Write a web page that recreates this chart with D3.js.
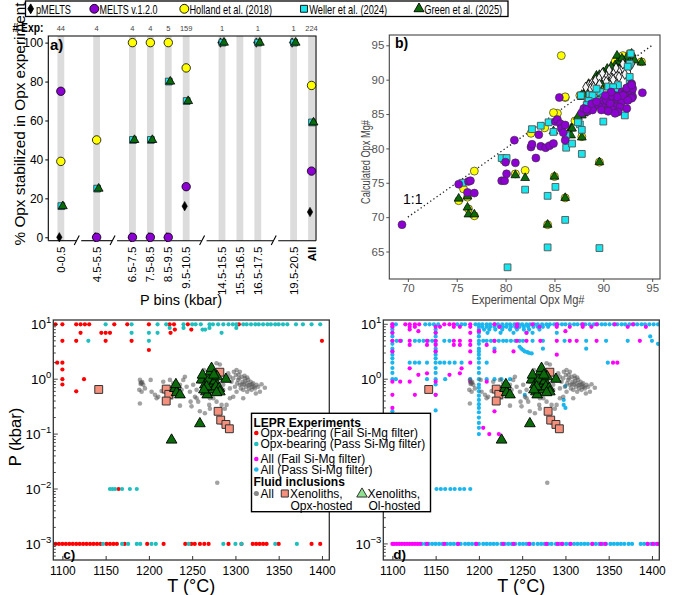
<!DOCTYPE html>
<html>
<head>
<meta charset="utf-8">
<script src="https://cdn.jsdelivr.net/npm/d3@7"></script>
<style>
  body { margin: 0; background: #fff; }
  svg text { font-family: "Liberation Sans", Arial, sans-serif; }
</style>
</head>
<body>
<svg id="fig" width="685" height="595"></svg>
<script>
(function() {
    'use strict';

    // ---------- panel a : % Opx stabilized per pressure bin
    var binLabels = ["0-0.5","4.5-5.5","6.5-7.5","7.5-8.5","8.5-9.5","9.5-10.5","14.5-15.5","15.5-16.5","16.5-17.5","19.5-20.5","All"];
    var breakAfter = ["0-0.5","4.5-5.5","9.5-10.5","16.5-17.5"];
    var expCounts = [44,4,4,4,5,159,1,null,1,1,224];
    var pmeltsA  = [0,0,0,0,0,16,100,null,100,100,13];
    var meltsA   = [75,0,0,0,0,26,null,null,null,null,34];
    var hollandA = [39,50,100,100,100,87,null,null,null,null,78];
    var wellerA  = [16,25,50,50,80,70,100,null,100,100,59];
    var greenA   = [16,25,50,50,80,70,100,null,100,100,59];
    var pctTicks = [0,20,40,60,80,100];

    // ---------- panel b : calculated vs experimental Opx Mg#
    var pmeltsB = [[88.5,89.2],[88.8,89.4],[89.2,89.9],[89.6,90.3],[90.1,90.2],[90.4,90.6],[90.7,90.7],[91.1,91.0],[91.4,90.6],[91.7,91.4],[92.0,91.7],[92.4,92.0],[92.7,91.9],[92.9,92.3],[92.5,91.1],[91.6,90.4],[90.9,90.2],[90.3,89.7],[89.6,89.3],[88.9,89.1],[89.9,90.9],[90.6,91.4],[91.3,91.7],[92.0,92.3],[89.3,88.5],[88.7,88.7],[88.2,88.9],[89.0,88.9],[91.0,90.0],[92.2,90.8]];
    var meltsB = [[69.4,68.9],[75.2,74.8],[76.2,75.2],[76.4,75.3],[76.1,73.6],[76.8,73.5],[79.6,75.3],[79.9,75.3],[80.1,76.3],[80.0,78.0],[81.0,77.9],[80.9,81.2],[82.6,80.2],[82.7,80.6],[83.1,78.6],[83.4,82.0],[83.6,80.3],[84.1,80.1],[84.5,80.4],[84.9,80.7],[85.1,83.9],[85.3,84.2],[85.6,83.6],[85.7,82.9],[86.1,83.4],[85.9,82.3],[86.1,81.2],[85.5,87.4],[87.8,85.2],[88.0,85.8],[88.4,85.4],[88.8,85.7],[89.0,86.0],[89.5,86.3],[89.8,86.5],[90.0,87.0],[90.2,86.0],[90.3,85.6],[90.5,86.8],[90.8,87.3],[91.1,86.3],[91.2,87.7],[91.4,87.0],[91.5,85.8],[91.7,87.7],[91.9,88.2],[92.0,87.3],[92.2,88.0],[92.4,88.7],[92.5,87.0],[92.7,89.0],[92.9,89.4],[92.9,88.2],[93.0,88.7],[93.0,87.5],[94.0,88.1],[90.5,87.7],[90.8,86.6],[89.8,85.6],[91.4,86.1],[91.9,86.8],[92.4,88.8],[92.9,89.2],[92.9,87.3],[92.0,87.7],[91.4,87.5],[90.7,87.5],[90.3,87.0],[88.9,85.6],[88.3,85.7],[90.7,86.5],[91.7,86.0],[91.0,85.6],[90.5,85.4],[91.5,85.3],[91.2,85.1],[92.5,87.0],[90.8,88.2],[92.4,85.8],[88.8,86.5],[89.3,86.8],[90.2,87.7]];
    var hollandB = [[85.7,93.5],[86.1,87.4],[85.3,85.1],[82.6,82.2],[84.0,83.0],[79.8,78.3],[82.0,76.8],[76.8,76.7],[75.7,74.1],[75.2,72.4],[76.8,70.2],[81.0,76.3],[85.0,75.9],[87.1,84.0],[87.8,81.7],[92.2,92.6],[93.9,92.6],[84.9,85.2],[91.2,92.6],[91.7,92.1],[92.0,93.5],[92.7,93.8],[89.3,90.2],[90.0,89.2],[87.6,87.7],[88.3,88.2],[86.1,87.5],[90.8,90.6],[92.4,91.6],[76.1,72.9],[76.2,71.2],[84.3,68.9],[86.1,72.8],[89.6,78.0]];
    var wellerB = [[75.6,75.0],[79.6,78.6],[80.1,78.6],[80.2,62.7],[82.0,74.0],[82.7,82.8],[83.6,83.3],[84.4,83.8],[84.3,73.1],[84.3,65.6],[84.9,82.4],[85.1,74.4],[86.1,69.6],[86.2,81.9],[86.2,80.1],[86.8,80.7],[87.6,83.5],[87.8,82.7],[87.8,79.2],[87.7,87.7],[88.6,87.8],[88.8,87.0],[88.4,86.9],[89.6,65.5],[90.0,83.9],[92.2,84.8],[92.7,90.4],[92.7,92.3],[92.8,93.8],[92.5,91.9],[90.5,89.0],[89.7,88.2],[91.5,89.2],[92.7,89.4],[92.2,88.0],[92.4,88.7],[91.7,87.0],[90.0,87.4],[89.6,87.0],[88.9,87.7],[88.5,86.9],[88.8,86.3],[88.3,86.3],[87.4,83.8],[91.0,88.9],[91.4,88.2],[92.2,87.3],[89.3,88.7]];
    var greenB = [[75.2,72.7],[76.1,71.4],[76.2,70.4],[76.8,70.4],[76.1,73.0],[81.0,76.1],[82.0,75.7],[85.0,75.9],[86.1,72.8],[84.3,68.9],[89.6,78.0],[84.9,82.5],[86.7,82.9],[86.7,81.9],[87.8,81.6],[88.0,85.1],[88.2,86.3],[87.8,87.8],[89.3,90.6],[89.8,89.4],[90.5,91.1],[90.8,91.6],[91.5,91.9],[92.2,92.6],[92.9,93.1],[93.9,92.5],[89.8,87.7],[88.4,88.7],[92.9,93.8],[92.4,93.2],[92.0,92.8],[91.5,92.6],[91.2,92.1],[90.8,91.9],[90.4,91.6],[90.0,91.1],[89.6,90.7],[89.4,90.3],[89.2,89.7],[88.5,89.4],[88.6,88.5],[88.0,87.8],[87.8,87.5],[89.6,88.7],[90.3,88.9],[90.8,90.2],[91.7,91.4],[92.4,92.1],[93.2,92.8],[87.8,84.8],[87.4,84.6],[86.8,82.9],[91.0,90.7],[91.4,93.5],[91.9,93.1],[92.2,91.9],[92.7,92.6],[89.6,87.3],[90.6,87.7]];
    var mgTicks = [65,70,75,80,85,90,95];

    // ---------- panels c, d : P-T of LEPR experiments and fluid inclusions
    function tRow(p, ts) { return ts.map(function(t) { return [t, p]; }); }

    var opxFail = [].concat(
        tRow(10, [1092,1100,1116,1121,1126,1131,1160,1175,1200,1224,1229,1245,1304]),
        tRow(8, [1230,1249]),
        tRow(7, [1121,1145,1150,1155,1225]),
        tRow(5, [1100,1116,1150,1180,1400]),
        [[1200,3.4],[1094,2],[1100,2],[1100,1.5],[1100,1],[1100,0.8],[1125,1],[1116,0.6],[1165,0.01]],
        tRow(0.001, [1092,1096,1100,1104,1108,1112,1116,1120,1124,1128,1132,1136,1140,1144,1151,1155,1159,1163,1172,1198,1217,1242,1249,1253,1259,1264,1269,1292,1307,1320,1324,1328,1332,1336,1350,1388,1398])
    );
    var opxPass = [].concat(
        tRow(10, [1150,1180,1210,1220,1240,1250,1254,1260,1270,1274,1280,1286,1292,1297,1301,1309,1313,1318,1323,1327,1332,1337,1341,1346,1350,1355,1360,1370,1378,1388,1398]),
        tRow(8.6, [1224,1240,1270,1301]),
        tRow(8, [1262,1265]),
        tRow(7, [1180,1200,1210,1284]),
        tRow(5, [1130,1200]),
        tRow(0.01, [1155,1158,1161,1169,1178,1186]),
        tRow(0.001, [1147,1169,1176,1186,1190,1203,1208,1246,1286,1300,1307,1346,1371])
    );
    var allPass = [].concat(
        tRow(10, [1100,1104,1138,1143,1148,1153,1175,1180,1184,1196,1200,1204,1209,1213,1218,1222,1227,1232,1236,1241,1246,1250,1255,1259,1264,1268,1273,1278,1282,1287,1291,1296,1300,1305,1310,1314,1319,1323,1328,1333,1337,1342,1346,1351,1356,1360,1365,1369,1374,1379,1383,1388,1392,1397,1402,1407]),
        tRow(9, [1100,1200,1204,1209,1213,1218,1223,1228,1232,1237,1242,1247,1252,1257,1263,1268,1274,1280]),
        tRow(8, [1100,1150,1200,1206,1212,1219,1227,1236,1244,1252,1258,1270]),
        tRow(7, [1100,1150,1200,1210,1225,1240,1255,1262,1290]),
        tRow(6, [1100,1150,1200,1398]),
        tRow(5, [1100,1105,1110,1126,1131,1136,1141,1146,1150,1160,1166,1200,1205,1209,1214,1218,1223,1228,1232,1237,1242,1247,1251,1262,1274,1299,1324,1347,1372,1400]),
        tRow(4.4, [1100,1150,1200,1407]),
        tRow(3.6, [1100,1150,1200,1218,1274,1324]),
        tRow(3.2, [1100,1150,1200]),
        [[1247,3.9],[1249,3.6],[1251,3.4],[1253,3.2],[1256,3.1],[1258,3.0],[1261,2.95]],
        tRow(2.8, [1100,1150,1200]),
        tRow(2.4, [1100,1150,1200]),
        tRow(2, [1100,1120,1126,1131,1140,1150,1155,1160,1166,1172,1180,1200,1209,1349]),
        tRow(1.6, [1100,1150,1200]),
        tRow(1.3, [1100,1150,1200]),
        tRow(1, [1100,1104,1140,1150,1161,1190,1200,1209,1218,1226,1236]),
        tRow(0.8, [1150,1200]),
        [[1200,0.7],[1200,0.6],[1200,0.5],[1150,0.52],[1253,0.52],[1200,0.42],[1200,0.35],[1200,0.3],[1100,0.26],[1150,0.27],[1200,0.25],[1200,0.2],[1200,0.16],[1200,0.13],[1200,0.1],[1300,0.75],[1298,0.42],[1298,0.34],[1300,0.3]],
        tRow(0.01, [1151,1156,1161,1167,1172,1178,1183,1190]),
        tRow(0.001, [1134,1138,1142,1146,1150,1154,1158,1163,1167,1171,1175,1179,1184,1188,1192,1196,1200,1205,1209,1213,1217,1221,1226,1230,1234,1238,1242,1247,1251,1255,1259,1263,1268,1272,1276,1280,1284,1289,1293,1297,1301,1305,1310,1314,1318,1322,1326,1331,1335,1339,1343,1347,1352,1356,1360,1364,1368,1373,1377,1387,1391,1395,1399,1403,1407])
    );
    var allFail = [].concat(
        tRow(10, [1100,1115,1120,1126,1131,1160,1166,1171,1190,1218,1244,1262,1290,1320,1336,1357,1378]),
        tRow(9, [1100,1120,1126,1150,1155,1171,1178,1190,1224,1244,1270,1290,1305,1320,1330,1372,1393]),
        [[1100,7],[1120,8],[1130,7.5],[1150,7],[1190,7],[1200,7.5],[1255,7],[1300,7.5]],
        tRow(5, [1100,1109,1120,1140,1150,1171,1178,1190,1218,1244,1255,1271,1290,1305,1313,1336,1386]),
        tRow(4.2, [1120,1140,1150,1171,1178,1190,1209]),
        [[1100,3.2],[1150,3.2],[1190,3.2],[1218,3.2],[1240,3.2],[1290,2.8],[1190,2],[1355,2],[1360,2]],
        [[1120,1.58],[1180,1.58],[1130,1.2],[1140,1.28],[1166,1.2],[1178,1.28]],
        tRow(0.9, [1100,1109,1120,1150,1190,1209]),
        [[1100,0.52],[1126,0.52],[1150,0.52],[1100,0.3],[1218,0.26],[1212,0.1],[1223,0.1],[1205,0.13]],
        tRow(0.001, [1100,1102,1105,1108,1111,1114,1117,1120,1123,1126,1129,1132,1140,1160,1176,1197,1228,1240,1258,1278,1291,1296,1306,1331,1341,1346,1395,1401,1406])
    );
    var fluidAll = [[1189.6,0.97],[1191.6,0.84],[1188.9,0.64],[1191.6,0.59],[1189.6,0.36],[1193.5,0.79],[1202,0.97],[1207,0.52],[1210.8,0.48],[1208.9,0.45],[1216.6,0.90],[1214.7,0.61],[1220.5,0.55],[1224.3,0.68],[1226.2,0.46],[1230.1,0.79],[1235.9,0.33],[1239.7,0.97],[1241.6,1.11],[1243.6,0.73],[1247.4,0.59],[1249.3,0.32],[1251.2,0.79],[1253.2,0.48],[1255.1,0.64],[1257,0.39],[1258.9,0.90],[1260.9,1.19],[1262.8,1.04],[1263.6,1.47],[1265.9,0.73],[1268.6,0.59],[1269.7,0.34],[1270.5,0.29],[1272.4,0.84],[1274.4,0.45],[1276.3,0.68],[1278.2,1.95],[1279,1.04],[1282,0.55],[1284,0.34],[1285.9,0.79],[1287.8,0.29],[1289.8,0.97],[1291.7,1.28],[1293.6,0.68],[1295.5,0.90],[1297.5,1.04],[1299.4,0.73],[1300.5,1.19],[1301.3,0.59],[1302.1,0.84],[1303.2,0.97],[1305.1,0.79],[1306.3,0.68],[1307.1,1.11],[1308.2,0.90],[1309,0.64],[1309.8,0.79],[1310.9,1.04],[1312.1,0.73],[1312.9,0.84],[1313.6,0.59],[1314.8,0.97],[1315.9,0.68],[1316.7,0.79],[1317.5,0.90],[1318.6,0.64],[1319.8,0.73],[1320.5,0.84],[1322.5,0.68],[1323.6,0.55],[1324.4,0.79],[1326.3,0.73],[1328.3,0.59],[1330.2,0.81],[1334,0.70],[1297.5,0.48],[1301.3,1.47],[1305.1,1.37],[1309,0.45],[1293.6,0.45],[1289.8,0.34],[1285.9,0.64],[1255.1,0.45],[1248.2,0.39],[1270.5,0.45],[1278.2,0.39],[1235.9,0.79],[1237.8,0.64],[1195.4,0.68],[1203.1,0.59],[1258.9,0.26],[1264.7,0.24],[1284,0.16],[1224.3,0.97],[1228.2,0.84],[1190.8,0.87],[1192.3,0.89],[1190.4,0.82],[1304.4,1.04],[1307.5,0.81],[1311.3,0.92],[1315.2,0.77],[1319,0.81],[1321.3,0.73],[1310.5,1.15],[1303.6,1.22],[1313.6,1.07],[1293.6,1.11],[1298.2,1.37],[1282,1.85],[1270.5,1.58],[1279,0.013]];
    var xenoOpx = [[1142,0.65],[1220,0.66],[1223,0.53],[1220,0.40],[1277,0.66],[1282,1.34],[1280,0.26],[1283,0.18],[1289,0.15],[1293,0.125]];
    var xenoOl = [[1230.1,0.68],[1232,0.57],[1235.9,0.52],[1231.2,0.80],[1258.9,0.155],[1226.2,0.078],[1260.9,0.97],[1262,1.19],[1264.7,0.79],[1265.9,0.59],[1267.4,0.52],[1269.7,1.0],[1271.3,1.37],[1272.4,1.58],[1273.6,0.80],[1274.4,0.64],[1276.3,0.93],[1277.4,0.73],[1279,1.11],[1281.3,0.68],[1282,0.59],[1289,1.0],[1266.7,0.73],[1263.6,0.64],[1275.1,1.19],[1278.2,0.57]];
    var tTicks = [1100,1150,1200,1250,1300,1350,1400];

    // ---------- colours
    var cPurple = "#8c00d2", cYellow = "#ffff00", cCyan = "#16e6ee", cGreen = "#0b6b0b";
    var cRed = "#ff0000", cTeal = "#20bfbf", cMagenta = "#ff00ff", cBlue = "#1ab6ee";
    var cGray = "rgba(85,85,85,0.55)", cSalmon = "#f4907c";

    var svg = d3.select("#fig");

    function sym(g, data, xs, ys, type, size, fill, stroke, sw, dx) {
        g.selectAll(null).data(data).join("path")
            .attr("transform", function(d) { return "translate(" + (xs(d[0]) + (dx || 0)) + "," + ys(d[1]) + ")"; })
            .attr("d", d3.symbol(type, size))
            .attr("fill", fill).attr("stroke", stroke).attr("stroke-width", sw);
    }
    function dots(g, data, xs, ys, r, fill) {
        g.selectAll(null).data(data).join("circle")
            .attr("cx", function(d) { return xs(d[0]); })
            .attr("cy", function(d) { return ys(d[1]); })
            .attr("r", r).attr("fill", fill);
    }
    function txt(g, x, y, s, size, opts) {
        opts = opts || {};
        var t = g.append("text").attr("x", x).attr("y", y).attr("font-size", size).text(s);
        if (opts.anchor) t.attr("text-anchor", opts.anchor);
        if (opts.bold) t.attr("font-weight", "bold");
        if (opts.fill) t.attr("fill", opts.fill);
        if (opts.len) t.attr("textLength", opts.len).attr("lengthAdjust", "spacingAndGlyphs");
        if (opts.rot) t.attr("transform", "rotate(-90," + x + "," + y + ")");
        return t;
    }

    // ---------- top legend
    var leg = svg.append("g");
    leg.append("rect").attr("x", 25.5).attr("y", 1).attr("width", 482.5).attr("height", 15.5)
        .attr("fill", "#fff").attr("stroke", "#000").attr("stroke-width", 1.3);
    var legItems = [
        {x: 30.7, type: d3.symbolDiamond, size: 28, fill: "#000", label: "pMELTS", len: 35},
        {x: 94.3, type: d3.symbolCircle, size: 62, fill: cPurple, label: "MELTS v.1.2.0", len: 58},
        {x: 184.3, type: d3.symbolCircle, size: 62, fill: cYellow, label: "Holland et al. (2018)", len: 82.5},
        {x: 304, type: d3.symbolSquare, size: 48, fill: cCyan, label: "Weller et al. (2024)", len: 78},
        {x: 419, type: d3.symbolTriangle, size: 44, fill: cGreen, label: "Green et al. (2025)", len: 78}
    ];
    legItems.forEach(function(it) {
        leg.append("path").attr("transform", "translate(" + it.x + ",8.8)")
            .attr("d", d3.symbol(it.type, it.size)).attr("fill", it.fill)
            .attr("stroke", "#000").attr("stroke-width", 0.9);
        txt(leg, it.x + 5.2, 13.6, it.label, 13.5, {len: it.len});
    });

    // ---------- panel a
    var gA = svg.append("g");
    var slotOf = [], s = 0;
    binLabels.forEach(function(b) {
        slotOf.push(s);
        s += breakAfter.indexOf(b) >= 0 ? 2 : 1;
    });
    var xA = d3.scaleLinear().domain([-0.7, 14.25]).range([48.3, 316]);
    var yA = d3.scaleLinear().domain([-1.75, 103.4]).range([240.7, 36]);

    gA.selectAll(null).data(slotOf).join("rect")
        .attr("x", function(d) { return xA(d) - 3.4; }).attr("width", 6.8)
        .attr("y", 36).attr("height", 240.7 - 36).attr("fill", "#dcdcdc");

    gA.append("path").attr("d", "M48.3,240.7V36H316V240.7")
        .attr("fill", "none").attr("stroke", "#000").attr("stroke-width", 1.1);
    // broken bottom axis
    var breakX = breakAfter.map(function(b) { return xA(slotOf[binLabels.indexOf(b)] + 1); });
    var edges = [48.3].concat(breakX).concat([316]);
    var bottom = gA.append("g").attr("stroke", "#000").attr("stroke-width", 1.1).attr("fill", "none");
    for (var i = 0; i < edges.length - 1; i++) {
        var a0 = i === 0 ? edges[i] : edges[i] + 2.5;
        var a1 = i === edges.length - 2 ? edges[i + 1] : edges[i + 1] - 2.5;
        bottom.append("line").attr("x1", a0).attr("x2", a1).attr("y1", 240.7).attr("y2", 240.7);
    }
    breakX.forEach(function(bx) {
        bottom.append("line").attr("x1", bx - 4.5).attr("y1", 245).attr("x2", bx + 0.5).attr("y2", 235.5);
    });

    var axA = gA.append("g").attr("transform", "translate(48.3,0)")
        .call(d3.axisLeft(yA).tickValues(pctTicks).tickSize(3).tickPadding(2));
    axA.select(".domain").remove();
    axA.selectAll("text").attr("font-size", 12).attr("fill", "#000");

    gA.selectAll(null).data(binLabels).join("text")
        .attr("transform", function(d, i) { return "translate(" + (xA(slotOf[i]) + 4) + ",246.5) rotate(-90)"; })
        .attr("text-anchor", "end").attr("font-size", 11.5)
        .attr("font-weight", function(d) { return d === "All" ? "bold" : null; })
        .text(function(d) { return d; });

    txt(gA, 12.5, 31.5, "# Exp:", 12.5, {bold: true, len: 31});
    gA.selectAll(null).data(expCounts.map(function(c, i) { return [slotOf[i], c]; }).filter(function(d) { return d[1] !== null; }))
        .join("text").attr("x", function(d) { return xA(d[0]); }).attr("y", 31)
        .attr("text-anchor", "middle").attr("font-size", 7.5).attr("fill", "#444")
        .text(function(d) { return d[1]; });

    function binPts(vals) {
        return vals.map(function(v, i) { return [slotOf[i], v]; }).filter(function(d) { return d[1] !== null; });
    }
    sym(gA, binPts(pmeltsA), xA, yA, d3.symbolDiamond, 26, "#000", "#000", 0.5, -1.5);
    sym(gA, binPts(hollandA), xA, yA, d3.symbolCircle, 56, cYellow, "#000", 0.8, 0);
    sym(gA, binPts(meltsA), xA, yA, d3.symbolCircle, 56, cPurple, "#000", 0.8, 0);
    sym(gA, binPts(wellerA), xA, yA, d3.symbolSquare, 46, cCyan, "#333", 0.8, 0.5);
    sym(gA, binPts(greenA), xA, yA, d3.symbolTriangle, 34, cGreen, "#000", 0.8, 2);

    txt(gA, 50, 50, "a)", 15, {bold: true});
    txt(gA, 25, 124, "% Opx stabilized in Opx experiment", 14.5, {anchor: "middle", rot: true, len: 243});
    txt(gA, 181, 305, "P bins (kbar)", 15.5, {anchor: "middle", len: 82});

    // ---------- panel b
    var gB = svg.append("g");
    var xB = d3.scaleLinear().domain([68.1, 95.8]).range([389.3, 660]);
    var yB = d3.scaleLinear().domain([61, 96.5]).range([279, 35]);
    var clipB = gB.append("clipPath").attr("id", "clipB");
    clipB.append("rect").attr("x", 389.3).attr("y", 35).attr("width", 660 - 389.3).attr("height", 244);

    var axBx = gB.append("g").attr("transform", "translate(0,279)")
        .call(d3.axisBottom(xB).tickValues(mgTicks.slice(1)).tickSize(3).tickPadding(2));
    var axBy = gB.append("g").attr("transform", "translate(389.3,0)")
        .call(d3.axisLeft(yB).tickValues(mgTicks).tickSize(3).tickPadding(2));
    [axBx, axBy].forEach(function(ax) {
        ax.select(".domain").remove();
        ax.selectAll("text").attr("font-size", 11.5).attr("fill", "#555");
        ax.selectAll("line").attr("stroke", "#555");
    });

    var plotB = gB.append("g").attr("clip-path", "url(#clipB)");
    plotB.append("line").attr("x1", xB(70)).attr("y1", yB(70)).attr("x2", xB(95)).attr("y2", yB(95))
        .attr("stroke", "#222").attr("stroke-width", 1.3).attr("stroke-dasharray", "1.3,2.6");
    sym(plotB, hollandB, xB, yB, d3.symbolCircle, 50, cYellow, "#333", 0.7);
    sym(plotB, greenB, xB, yB, d3.symbolTriangle, 34, cGreen, "#000", 0.7);
    sym(plotB, pmeltsB, xB, yB, d3.symbolDiamond, 32, "#f4f4f4", "#111", 0.9);
    sym(plotB, wellerB, xB, yB, d3.symbolSquare, 46, cCyan, "#555", 0.9);
    sym(plotB, meltsB, xB, yB, d3.symbolCircle, 50, cPurple, "#333", 0.6);

    gB.append("rect").attr("x", 389.3).attr("y", 35).attr("width", 660 - 389.3).attr("height", 244)
        .attr("fill", "none").attr("stroke", "#444").attr("stroke-width", 1.1);
    txt(gB, 395, 47.5, "b)", 14, {bold: true});
    txt(gB, 403, 203.5, "1:1", 15, {len: 19.5});
    txt(gB, 370, 162, "Calculated Opx Mg#", 12, {anchor: "middle", rot: true, fill: "#444", len: 84});
    txt(gB, 528, 303.5, "Experimental Opx Mg#", 12.5, {anchor: "middle", fill: "#444", len: 113});

    // ---------- panels c and d
    function ptPanel(x0, id, label, lepr, showYLabel, shownExp) {
        var g = svg.append("g");
        var x = d3.scaleLinear().domain([1089.5, 1408.5]).range([x0, x0 + 276]);
        var y = d3.scaleLog().domain([Math.pow(10, -3.293), Math.pow(10, 1.078)]).range([560, 320]);

        g.append("clipPath").attr("id", id).append("rect")
            .attr("x", x0).attr("y", 320).attr("width", 276).attr("height", 240);
        var plot = g.append("g").attr("clip-path", "url(#" + id + ")");
        lepr.forEach(function(s) { dots(plot, s.data, x, y, 2.1, s.color); });
        dots(plot, fluidAll, x, y, 2.3, cGray);
        sym(plot, xenoOpx, x, y, d3.symbolSquare, 62, cSalmon, "#333", 1);
        sym(plot, xenoOl, x, y, d3.symbolTriangle, 50, cGreen, "#000", 0.9);

        var all = y.ticks();
        var major = all.filter(function(v) { return Math.abs(Math.log10(v) - Math.round(Math.log10(v))) < 1e-9; });
        var minor = all.filter(function(v) { return major.indexOf(v) < 0; });
        var tk = g.append("g").attr("stroke", "#333").attr("stroke-width", 0.9);
        tk.selectAll(null).data(major).join("line")
            .attr("x1", x0).attr("x2", x0 + 4.5).attr("y1", y).attr("y2", y);
        tk.selectAll(null).data(minor).join("line")
            .attr("x1", x0).attr("x2", x0 + 2.5).attr("y1", y).attr("y2", y);

        var axX = g.append("g").attr("transform", "translate(0,560)")
            .call(d3.axisBottom(x).tickValues(tTicks).tickFormat(d3.format("d")).tickSize(-4).tickPadding(6.5));
        axX.select(".domain").remove();
        axX.selectAll("text").attr("font-size", 12).attr("fill", "#000");
        axX.selectAll("line").attr("stroke", "#333");

        major.forEach(function(v) {
            var e = Math.round(Math.log10(v));
            if (shownExp.indexOf(e) < 0) return;
            var t = g.append("text").attr("x", x0 - 2).attr("y", y(v) + 5)
                .attr("text-anchor", "end").attr("font-size", 13.5);
            t.append("tspan").text("10");
            t.append("tspan").attr("dy", -6).attr("font-size", 9.5).text(String(e).replace("-", "\u2212"));
        });

        g.append("rect").attr("x", x0).attr("y", 320).attr("width", 276).attr("height", 240)
            .attr("fill", "none").attr("stroke", "#333").attr("stroke-width", 1.3);
        txt(g, x0 + 10, 558.5, label, 13.5, {bold: true});
        txt(g, x0 + 138, 592, "T (\u00b0C)", 18, {anchor: "middle"});
        if (showYLabel) txt(g, 21, 437, "P (kbar)", 16.5, {anchor: "middle", rot: true});
    }

    ptPanel(53.3, "clipC", "c)", [{data: opxFail, color: cRed}, {data: opxPass, color: cTeal}], true, [1, 0, -1, -2, -3]);
    // in d the 10^-1 and 10^-2 labels sit under the shared legend box
    ptPanel(383.3, "clipD", "d)", [{data: allPass, color: cBlue}, {data: allFail, color: cMagenta}], false, [1, 0, -3]);

    // ---------- shared legend for c and d
    var lg = svg.append("g");
    lg.append("rect").attr("x", 251.5).attr("y", 413.3).attr("width", 179).attr("height", 98.4)
        .attr("fill", "#fff").attr("stroke", "#000").attr("stroke-width", 1.4);
    txt(lg, 253.5, 426.5, "LEPR Experiments", 12, {bold: true});
    var lgRows = [
        {c: cRed, t: "Opx-bearing (Fail Si-Mg filter)", y: 437},
        {c: cTeal, t: "Opx-bearing (Pass Si-Mg filter)", y: 448},
        {c: cMagenta, t: "All (Fail Si-Mg filter)", y: 463},
        {c: cBlue, t: "All (Pass Si-Mg filter)", y: 473.5}
    ];
    lgRows.forEach(function(r) {
        lg.append("circle").attr("cx", 256.3).attr("cy", r.y - 4).attr("r", 2.3).attr("fill", r.c);
        txt(lg, 260.5, r.y, r.t, 12);
    });
    txt(lg, 253.5, 485.5, "Fluid inclusions", 12, {bold: true});
    lg.append("circle").attr("cx", 256.3).attr("cy", 493.5).attr("r", 2.6).attr("fill", "#888");
    txt(lg, 260.5, 497.5, "All", 12);
    lg.append("path").attr("transform", "translate(284.8,493.5)").attr("d", d3.symbol(d3.symbolSquare, 50))
        .attr("fill", cSalmon).attr("stroke", "#333").attr("stroke-width", 1);
    txt(lg, 290, 497.5, "Xenoliths,", 12);
    txt(lg, 290.5, 509.5, "Opx-hosted", 12);
    lg.append("path").attr("transform", "translate(362,494)").attr("d", d3.symbol(d3.symbolTriangle, 48))
        .attr("fill", "#8fe08f").attr("stroke", "#333").attr("stroke-width", 1);
    txt(lg, 367.5, 497.5, "Xenoliths,", 12);
    txt(lg, 368.5, 509.5, "Ol-hosted", 12);
})();
</script>
</body>
</html>
